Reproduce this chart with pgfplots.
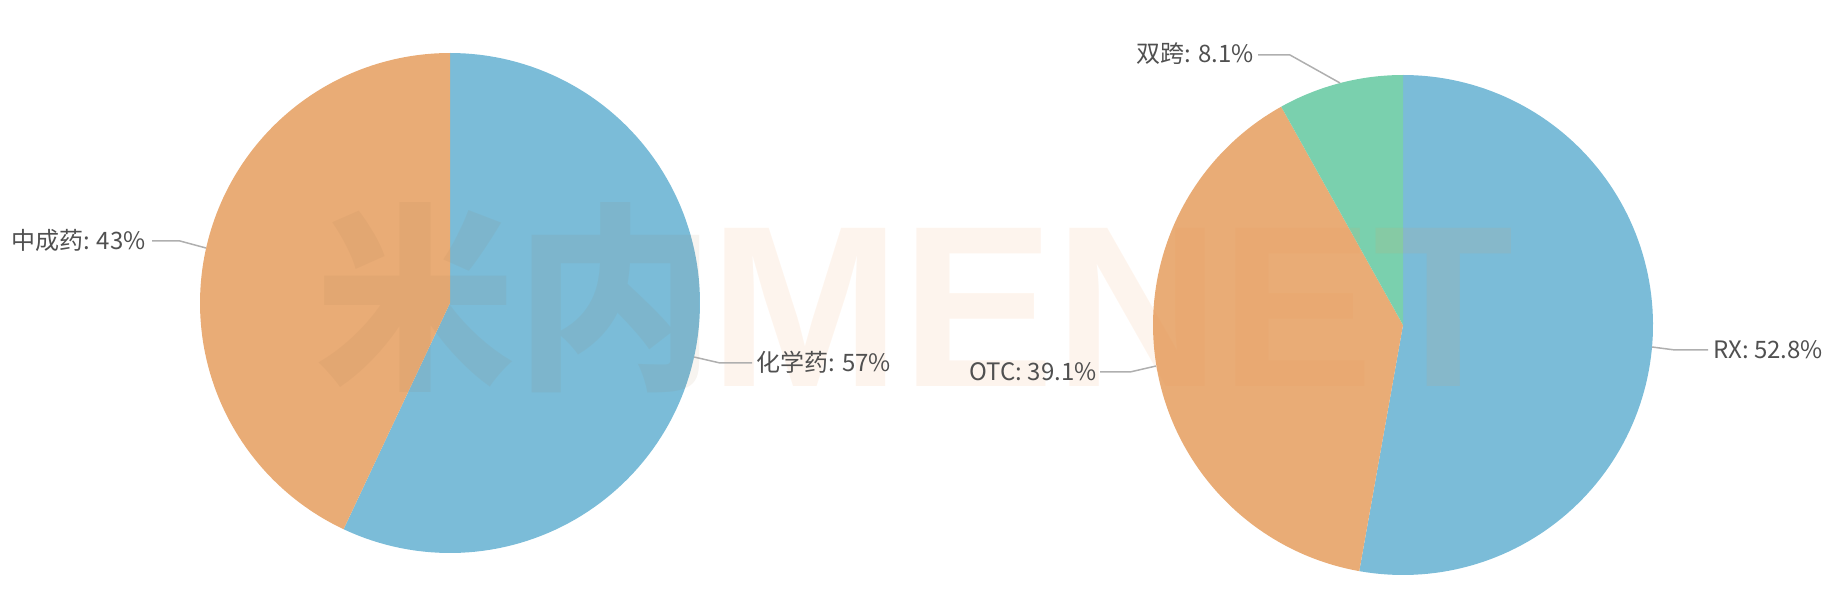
\documentclass[border=0pt]{standalone}
\usepackage{pgfplots}
\pgfplotsset{compat=1.18}
\usepackage{fontspec}
\setmainfont{Noto Sans CJK SC}
\newfontfamily\wmlat{Liberation Sans}
\definecolor{cblue}{RGB}{123,188,216}
\definecolor{corange}{RGB}{233,172,118}
\definecolor{cgreen}{RGB}{122,208,174}
\definecolor{ctext}{RGB}{80,80,80}
\definecolor{cline}{RGB}{175,175,175}
\definecolor{wmorange}{RGB}{240,150,80}
\definecolor{wmbrown}{RGB}{150,110,70}
\tikzset{
  lbl/.style={font=\fontsize{12}{14}\selectfont, text=ctext, inner sep=0pt},
  lline/.style={draw=cline, line width=0.75pt},
}
% pie values (percent)
\def\chem{57}   \def\tcm{43}
\def\rx{52.8}   \def\otc{39.1}  \def\dual{8.1}
\begin{document}
\begin{tikzpicture}
\begin{axis}[
  name=ax,
  width=920pt, height=296pt, scale only axis,
  xmin=0, xmax=1840, ymin=0, ymax=592, y dir=reverse,
  axis lines=none, ticks=none, clip=false,
  samples=120, variable=\t,
]
% ---- left pie: centre (450,303), r=250
\addplot[draw=none, fill=cblue, domain=0:3.6*\chem] ({450+250*sin(t)},{303-250*cos(t)}) -- (axis cs:450,303) -- cycle;
\addplot[draw=none, fill=corange, domain=3.6*\chem:3.6*(\chem+\tcm)] ({450+250*sin(t)},{303-250*cos(t)}) -- (axis cs:450,303) -- cycle;
% ---- right pie: centre (1403,325), r=250
\addplot[draw=none, fill=cblue, domain=0:3.6*\rx] ({1403+250*sin(t)},{325-250*cos(t)}) -- (axis cs:1403,325) -- cycle;
\addplot[draw=none, fill=corange, domain=3.6*\rx:3.6*(\rx+\otc)] ({1403+250*sin(t)},{325-250*cos(t)}) -- (axis cs:1403,325) -- cycle;
\addplot[draw=none, fill=cgreen, domain=3.6*(\rx+\otc):3.6*(\rx+\otc+\dual)] ({1403+250*sin(t)},{325-250*cos(t)}) -- (axis cs:1403,325) -- cycle;
% ---- watermark
\node[text=wmbrown, opacity=0.08, inner sep=0pt, anchor=center, font=\fontsize{100}{110}\selectfont\bfseries] at (axis cs:515,298) {米内};
\node[text=wmorange, opacity=0.1, inner sep=0pt, anchor=base west, font=\wmlat\fontsize{115}{120}\selectfont\bfseries] at (axis cs:709,387) {MENET};
% ---- label lines and labels
\draw[lline] (axis cs:206,248) -- (axis cs:180,241) -- (axis cs:152,241);
\node[lbl, anchor=east] at (axis cs:146,240) {中成药: 43\%};
\draw[lline] (axis cs:694,357) -- (axis cs:720,363) -- (axis cs:752,363);
\node[lbl, anchor=west] at (axis cs:756,362) {化学药: 57\%};
\draw[lline] (axis cs:1652,347) -- (axis cs:1675,350) -- (axis cs:1708,350);
\node[lbl, anchor=west] at (axis cs:1713,350) {RX: 52.8\%};
\draw[lline] (axis cs:1156,366) -- (axis cs:1130,372) -- (axis cs:1100,372);
\node[lbl, anchor=east] at (axis cs:1097,372) {OTC: 39.1\%};
\draw[lline] (axis cs:1340,83) -- (axis cs:1290,55) -- (axis cs:1258,55);
\node[lbl, anchor=east] at (axis cs:1254,54) {双跨: 8.1\%};
\end{axis}
\pgfresetboundingbox
\path (ax.south west) rectangle (ax.north east);
\end{tikzpicture}
\end{document}
